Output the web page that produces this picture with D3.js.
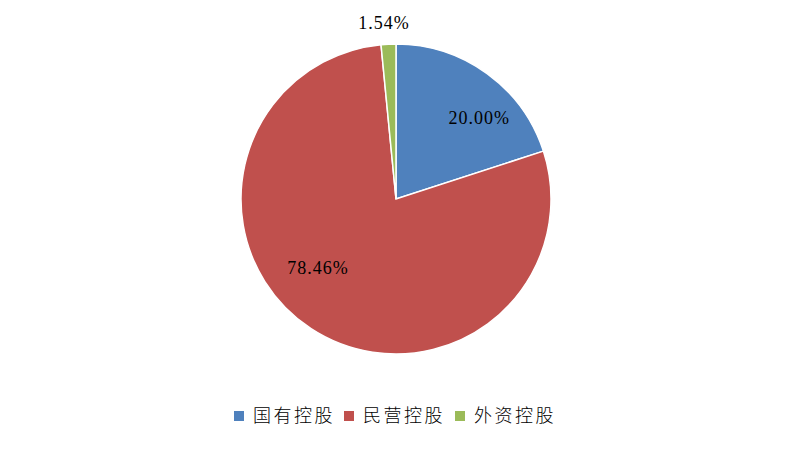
<!DOCTYPE html>
<html><head><meta charset="utf-8">
<script src="https://cdn.jsdelivr.net/npm/d3@7"></script>
<style>body{margin:0;background:#fff}svg{display:block}</style>
</head><body><svg id="c" width="792" height="451"></svg>
<script>
const categories = ["国有控股", "民营控股", "外资控股"];
const values = [20.00, 78.46, 1.54];
const labels = ["20.00%", "78.46%", "1.54%"];
const colors = ["#4F81BD", "#C0504D", "#9BBB59"];

const W = 792, H = 451, cx = 396, cy = 199, R = 155;
const svg = d3.select("#c");
const g = svg.append("g").attr("transform", `translate(${cx},${cy})`);
const pie = d3.pie().sort(null).value(d => d)(values);
const arc = d3.arc().innerRadius(0).outerRadius(R);
g.selectAll("path").data(pie).join("path")
  .attr("d", arc).attr("fill", (d, i) => colors[i])
  .attr("stroke", "#fff").attr("stroke-width", 1.5);

// label placement (Excel best-fit style): [radius fraction, angle offset in rad]
const place = [[0.75, 0.17], [0.67, 0.27], [1.14, -0.02]];
g.selectAll("text.lbl").data(pie).join("text").attr("class", "lbl")
  .each(function (d, i) {
    const a = (d.startAngle + d.endAngle) / 2 + place[i][1];
    const r = R * place[i][0];
    d3.select(this).attr("x", r * Math.sin(a)).attr("y", -r * Math.cos(a));
  })
  .attr("text-anchor", "middle").attr("dy", "0.36em")
  .attr("font-family", "Liberation Serif, serif").attr("font-size", 18)
  .attr("letter-spacing", 1)
  .attr("fill", "#000")
  .text((d, i) => labels[i]);

// legend
const lg = svg.append("g");
const lx = [234, 344, 455];
categories.forEach((c, i) => {
  lg.append("rect").attr("x", lx[i]).attr("y", 411).attr("width", 10).attr("height", 10).attr("fill", colors[i]);
  lg.append("text").attr("x", lx[i] + 19).attr("y", 416).attr("dy", "0.36em")
    .attr("font-family", "Noto Sans CJK SC, sans-serif").attr("font-size", 18)
    .attr("font-weight", 300).attr("letter-spacing", 2.5).attr("fill", "#000").text(c);
});
</script></body></html>
